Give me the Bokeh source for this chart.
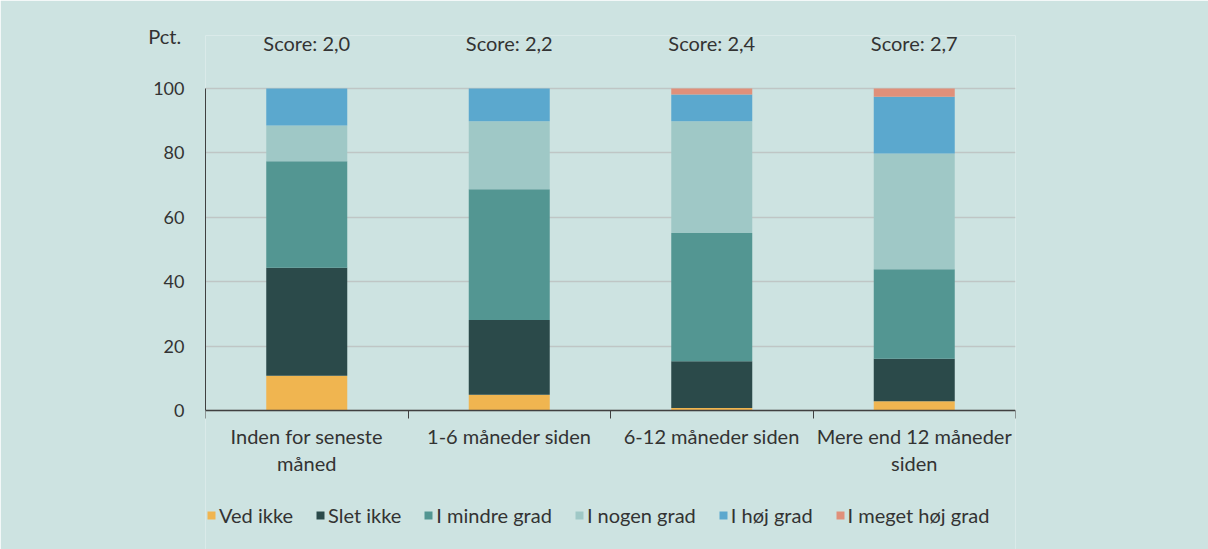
from bokeh.plotting import figure
from bokeh.models import Range1d, FixedTicker, Legend, LegendItem, ColumnDataSource
from bokeh.embed import file_html
from bokeh.resources import INLINE
from bokeh.core.properties import value

# ---- data ----
categories = ["Inden for seneste\nmåned", "1-6 måneder siden", "6-12 måneder siden", "Mere end 12 måneder\nsiden"]
scores = ["Score: 2,0", "Score: 2,2", "Score: 2,4", "Score: 2,7"]
series = ["Ved ikke", "Slet ikke", "I mindre grad", "I nogen grad", "I høj grad", "I meget høj grad"]
ved_ikke = [10.8, 4.9, 0.8, 2.9]
slet_ikke = [33.5, 23.2, 14.5, 13.2]
i_mindre_grad = [33.1, 40.6, 39.8, 27.8]
i_nogen_grad = [11.1, 21.1, 34.7, 35.9]
i_hoej_grad = [11.5, 10.2, 8.3, 17.6]
i_meget_hoej_grad = [0.0, 0.0, 1.9, 2.6]
y_ticks = [0, 20, 40, 60, 80, 100]

colors = ["#F0B550", "#2B4A4A", "#539692", "#9FC8C6", "#5BA8CE", "#E0907A"]
BG = "#CDE3E1"
FONT = "Lato"
TXT = "#333333"

xs = [i + 0.5 for i in range(len(categories))]
src = ColumnDataSource(dict(x=xs, score=scores,
                            s0=ved_ikke, s1=slet_ikke, s2=i_mindre_grad,
                            s3=i_nogen_grad, s4=i_hoej_grad, s5=i_meget_hoej_grad))

p = figure(frame_width=810, frame_height=514, output_backend="svg", toolbar_location=None,
           x_range=Range1d(0, len(categories)), y_range=Range1d(-43.17, 116.46),
           min_border_left=205, min_border_right=193, min_border_top=35, min_border_bottom=0)
p.background_fill_color = BG
p.border_fill_color = BG
p.outline_line_color = None

keys = ["s0", "s1", "s2", "s3", "s4", "s5"]
rs = p.vbar_stack(keys, x="x", width=0.4, source=src, color=colors, line_color=None)

# scores
p.text(x="x", y=114.25, text="score", source=src, text_align="center", text_baseline="middle",
       text_font=value(FONT), text_font_size="20px", text_color=TXT)

# axes
xa = p.xaxis[0]
xa.fixed_location = 0
xa.ticker = FixedTicker(ticks=xs, minor_ticks=list(range(len(categories) + 1)))
xa.major_label_overrides = {x: c for x, c in zip(xs, categories)}
xa.major_tick_line_color = None
xa.major_tick_out = 0
xa.major_tick_in = 0
xa.minor_tick_line_color = "#404040"
xa.minor_tick_out = 8
xa.minor_tick_in = 0
xa.axis_line_color = "#404040"
xa.axis_line_width = 1.5
xa.major_label_text_font = FONT
xa.major_label_text_font_size = "20px"
xa.major_label_text_color = TXT
xa.major_label_standoff = 6
xa.major_label_text_line_height = 1.1

ya = p.yaxis[0]
ya.ticker = FixedTicker(ticks=y_ticks)
ya.bounds = (0, 100)
ya.major_tick_line_color = None
ya.minor_tick_line_color = None
ya.major_tick_out = 0
ya.axis_line_color = "#404040"
ya.major_label_text_font = FONT
ya.major_label_text_font_size = "18px"
ya.major_label_text_color = TXT
ya.major_label_standoff = 21
ya.axis_label = "Pct."
ya.axis_label_orientation = "horizontal"
ya.axis_label_text_font = FONT
ya.axis_label_text_font_size = "20px"
ya.axis_label_text_font_style = "normal"
ya.axis_label_text_color = TXT
ya.axis_label_standoff = -31
try:
    ya.axis_label_align = "end"
except Exception:
    pass

p.xgrid.grid_line_color = None
p.ygrid.ticker = FixedTicker(ticks=y_ticks)
p.ygrid.grid_line_color = "#BFC6C5"
p.ygrid.grid_line_width = 1.5

legend = Legend(items=[LegendItem(label=s, renderers=[r]) for s, r in zip(series, rs)],
                orientation="horizontal", location=(1, 22),
                glyph_width=10, glyph_height=10, label_standoff=3, spacing=22,
                padding=0, margin=0, background_fill_alpha=0, border_line_color=None,
                label_text_font=FONT, label_text_font_size="20px", label_text_color=TXT)
p.add_layout(legend)

open("out.html", "w").write(file_html(p, INLINE))
